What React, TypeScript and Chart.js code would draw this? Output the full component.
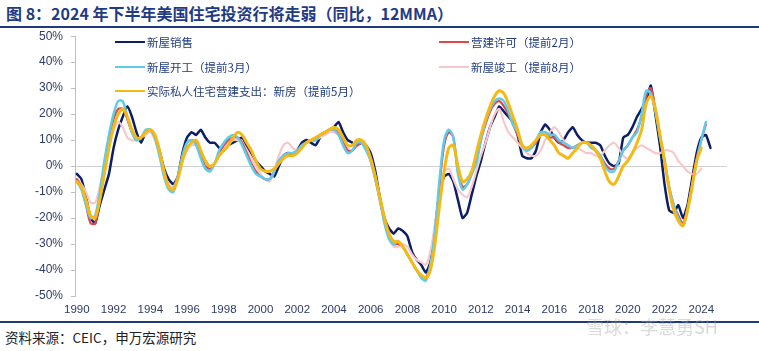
import React, { useEffect, useRef } from "react";
import { Chart, registerables } from "chart.js";
Chart.register(...registerables);

// Quarterly values (YoY %, 12MMA), first point at 1990 Q1
const START_YEAR = 1990;
const STEP = 0.25;

const xTickYears = [1990, 1992, 1994, 1996, 1998, 2000, 2002, 2004, 2006, 2008, 2010, 2012, 2014, 2016, 2018, 2020, 2022, 2024];

// 新屋销售
const newHomeSales = [
  -3, -5, -12, -20, -22, -15, -9, -3, 7, 14, 19, 23, 19, 13, 9, 13, 14, 11, 6, -1,
  -5, -7, -4, 5, 11, 13, 12, 14, 11, 9, 9, 7, 6, 8, 9, 10, 11, 8, 5, 2,
  0, -2, -3, -4, 0, 4, 5, 4, 6, 9, 10, 9, 8, 11, 13, 14, 15, 17, 13, 10,
  9, 8, 9, 8, 5, -2, -12, -20, -24, -26, -24, -25, -27, -33, -36, -38, -41, -37, -24, -10,
  -4, -3, -6, -13, -20, -18, -11, -4, 2, 9, 15, 19, 23, 21, 19, 17, 12, 4, 3, 3,
  6, 13, 16, 14, 11, 9, 10, 13, 15, 12, 10, 9, 9, 9, 8, 4, 1, 0, 1, 11,
  12, 15, 19, 22, 25, 31, 20, 8, -7, -17, -18, -15, -20, -15, -5, 5, 11, 12, 7,
];

// 营建许可（提前2月）
const permits = [
  -5, -8, -15, -22, -22, -13, 0, 10, 18, 22, 22, 18, 13, 10, 11, 13, 14, 11, 5, -3,
  -8, -9, -4, 4, 9, 10, 9, 4, 0, -1, 1, 5, 8, 10, 11, 11, 9, 5, 1, -2,
  -4, -5, -5, -2, 2, 4, 5, 5, 6, 8, 9, 10, 10, 12, 13, 14, 14, 13, 9, 6,
  6, 8, 9, 7, 2, -5, -13, -21, -27, -30, -30, -31, -34, -37, -40, -42, -43, -38, -26, -7,
  8, 13, 11, -2, -8, -7, -3, 2, 10, 16, 21, 24, 25, 23, 20, 16, 12, 8, 6, 7,
  9, 12, 12, 11, 11, 9, 8, 7, 7, 8, 9, 9, 8, 6, 4, 1, -1, -1, 2, 6,
  8, 11, 14, 19, 27, 30, 22, 12, 2, -8, -15, -19, -22, -16, -7, 3, 10, 16,
];

// 新屋开工（提前3月）
const starts = [
  -6, -9, -15, -20, -19, -10, 2, 12, 20, 25, 25, 19, 13, 10, 11, 14, 14, 11, 4, -4,
  -9, -10, -4, 4, 9, 10, 8, 3, -1, -2, 1, 6, 9, 11, 12, 11, 8, 4, 0, -3,
  -4, -5, -5, -2, 2, 4, 5, 5, 6, 8, 9, 10, 10, 12, 13, 14, 14, 12, 8, 5,
  6, 9, 9, 6, 2, -5, -13, -22, -28, -30, -29, -31, -34, -37, -40, -43, -44, -38, -25, -5,
  10, 14, 11, -3, -9, -7, -3, 1, 10, 17, 22, 25, 26, 25, 21, 16, 13, 8, 6, 7,
  10, 13, 13, 12, 12, 10, 9, 8, 7, 8, 9, 9, 7, 6, 4, 0, -2, -2, 2, 6,
  8, 11, 13, 20, 29, 28, 21, 11, 2, -8, -15, -20, -23, -17, -8, 2, 10, 17,
];

// 新屋竣工（提前8月）
const completions = [
  -5, -7, -10, -14, -14, -8, 0, 8, 14, 17, 15, 11, 10, 10, 11, 12, 13, 10, 4, -3,
  -7, -8, -4, 2, 6, 8, 8, 5, 2, 0, 1, 4, 7, 9, 10, 10, 9, 6, 3, 0,
  -3, -5, -6, -2, 4, 8, 9, 7, 6, 7, 9, 10, 10, 11, 12, 13, 13, 12, 10, 7,
  6, 8, 9, 7, 3, -4, -13, -22, -28, -31, -31, -30, -31, -34, -36, -37, -38, -33, -22, -10,
  -2, -1, -5, -9, -11, -12, -8, -2, 4, 9, 15, 20, 22, 17, 13, 11, 9, 7, 5, 4,
  4, 6, 10, 13, 15, 13, 10, 8, 7, 7, 6, 5, 5, 4, 4, 6, 8, 9, 7, 4,
  3, 5, 7, 8, 7, 6, 5, 5, 6, 6, 5, 2, 0, -2, -3, -3, -1,
];

// 实际私人住宅营建支出：新房（提前5月）
const spending = [
  -6, -8, -13, -19, -20, -13, -3, 7, 15, 20, 22, 19, 14, 11, 11, 13, 14, 12, 6, -2,
  -8, -9, -5, 2, 7, 9, 10, 6, 2, 0, 1, 4, 6, 8, 11, 13, 12, 9, 6, 2,
  -1, -2, -2, -1, 1, 3, 4, 4, 5, 7, 9, 10, 11, 12, 13, 14, 15, 14, 11, 8,
  8, 10, 10, 8, 3, -4, -12, -20, -26, -29, -29, -31, -34, -37, -40, -42, -43, -40, -30, -15,
  -2, 7, 8, 0, -6, -5, -2, 5, 12, 18, 23, 27, 29, 28, 24, 19, 14, 8, 7, 8,
  10, 12, 12, 10, 8, 5, 4, 3, 5, 7, 9, 9, 8, 6, 3, -2, -6, -7, -4, 0,
  2, 5, 9, 14, 24, 27, 22, 12, 2, -9, -17, -21, -23, -17, -8, 2, 7,
];

const LABELS = {
  sales: "新屋销售",
  permits: "营建许可（提前2月）",
  starts: "新屋开工（提前3月）",
  completions: "新屋竣工（提前8月）",
  spending: "实际私人住宅营建支出：新房（提前5月）",
};

const COLORS = {
  sales: "#0C1E66",
  permits: "#E0474C",
  starts: "#5FCBEA",
  completions: "#F6C8CB",
  spending: "#F4B914",
};

const toPoints = (vals: number[]) => vals.map((v, i) => ({ x: START_YEAR + i * STEP, y: v }));

const CJK = '"Noto Sans CJK SC", "Noto Sans", sans-serif';
const LATIN = '"Liberation Sans", Arial, sans-serif';

export default function App() {
  const ref = useRef<HTMLCanvasElement | null>(null);

  useEffect(() => {
    if (!ref.current) return;
    const chart = new Chart(ref.current, {
      type: "line",
      data: {
        datasets: [
          { label: LABELS.spending, data: toPoints(spending), borderColor: COLORS.spending, borderWidth: 3, order: 0 },
          { label: LABELS.starts, data: toPoints(starts), borderColor: COLORS.starts, borderWidth: 2.5, order: 1 },
          { label: LABELS.permits, data: toPoints(permits), borderColor: COLORS.permits, borderWidth: 2.2, order: 2 },
          { label: LABELS.completions, data: toPoints(completions), borderColor: COLORS.completions, borderWidth: 2.2, order: 3 },
          { label: LABELS.sales, data: toPoints(newHomeSales), borderColor: COLORS.sales, borderWidth: 2.5, order: 4, tension: 0.15 },
        ],
      },
      options: {
        animation: false,
        responsive: false,
        maintainAspectRatio: false,
        elements: {
          point: { radius: 0 },
          line: { tension: 0.3, borderCapStyle: "round", borderJoinStyle: "round", fill: false },
        },
        plugins: { legend: { display: false }, tooltip: { enabled: false } },
        layout: { padding: { top: 1, right: 32, left: 0, bottom: 0 } },
        scales: {
          x: {
            type: "linear",
            min: 1989.9,
            max: 2025.4,
            grid: { display: false, drawTicks: false },
            border: { display: false },
            afterBuildTicks: (axis: any) => {
              axis.ticks = xTickYears.map((v) => ({ value: v }));
            },
            afterFit: (s: any) => {
              s.height = 24;
            },
            ticks: {
              autoSkip: false,
              maxRotation: 0,
              padding: 7,
              color: "#2F3A66",
              font: { size: 11.5, family: LATIN },
              callback: (v: any) => String(v),
            },
          },
          y: {
            min: -50,
            max: 50,
            afterFit: (s: any) => {
              s.width = 75;
            },
            ticks: {
              stepSize: 10,
              padding: 8,
              color: "#2F3A66",
              font: { size: 12, family: LATIN },
              callback: (v: any) => v + "%",
            },
            grid: {
              color: (ctx: any) => (ctx.tick && ctx.tick.value === 0 ? "#cfcfcf" : "rgba(0,0,0,0)"),
              tickColor: "#bfbfbf",
              tickLength: 4,
              lineWidth: 1,
            },
            border: { display: true, color: "#bfbfbf" },
          },
        },
      },
    });
    return () => chart.destroy();
  }, []);

  const legendItems = [
    { key: "sales", x: 115, y: 42 },
    { key: "permits", x: 439, y: 42 },
    { key: "starts", x: 115, y: 67 },
    { key: "completions", x: 439, y: 67 },
    { key: "spending", x: 115, y: 91 },
  ] as const;

  return (
    <div style={{ position: "absolute", left: 0, top: 0, width: 759, height: 351, background: "#fff", overflow: "hidden" }}>
      <div
        style={{
          position: "absolute",
          left: 6,
          top: 2,
          fontFamily: CJK,
          fontWeight: 700,
          fontSize: 16,
          lineHeight: "22px",
          color: "#1F3B85",
          whiteSpace: "nowrap",
        }}
      >
        图 8：2024 年下半年美国住宅投资行将走弱（同比，12MMA）
      </div>
      <div style={{ position: "absolute", left: 0, top: 26, width: 759, height: 2, background: "#1F3A7A" }} />
      <canvas ref={ref} width={759} height={299} style={{ position: "absolute", left: 0, top: 21, width: 759, height: 299 }} />
      {legendItems.map((it) => (
        <React.Fragment key={it.key}>
          <div
            style={{
              position: "absolute",
              left: it.x,
              top: it.y - 1.25,
              width: 30,
              height: 2.5,
              background: (COLORS as any)[it.key],
            }}
          />
          <div
            style={{
              position: "absolute",
              left: it.x + 32,
              top: it.y - 9,
              fontFamily: CJK,
              fontSize: 11.5,
              lineHeight: "18px",
              color: "#1F3B7F",
              whiteSpace: "nowrap",
            }}
          >
            {(LABELS as any)[it.key]}
          </div>
        </React.Fragment>
      ))}
      <div style={{ position: "absolute", left: 0, top: 321, width: 759, height: 2, background: "#1F3A7A" }} />
      <div
        style={{
          position: "absolute",
          left: 5,
          top: 328,
          fontFamily: CJK,
          fontSize: 13.5,
          lineHeight: "19px",
          color: "#222",
          whiteSpace: "nowrap",
        }}
      >
        资料来源：CEIC，申万宏源研究
      </div>
      <div
        style={{
          position: "absolute",
          left: 586,
          top: 314,
          fontFamily: CJK,
          fontSize: 18,
          lineHeight: "24px",
          color: "rgba(160,160,160,0.4)",
          whiteSpace: "nowrap",
        }}
      >
        雪球：李慧勇SH
      </div>
    </div>
  );
}
